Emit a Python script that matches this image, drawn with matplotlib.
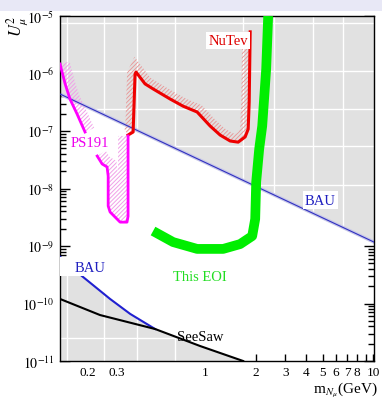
import numpy as np
import matplotlib
matplotlib.use('Agg')
import matplotlib.pyplot as plt
from matplotlib.patches import Polygon, Rectangle
from matplotlib.ticker import FixedLocator, FixedFormatter, LogLocator, NullFormatter

plt.rcParams['font.family'] = ['Liberation Serif', 'DejaVu Serif']
plt.rcParams['mathtext.fontset'] = 'stix'
plt.rcParams['hatch.linewidth'] = 0.7

# --- data (mass in GeV, U^2) ---
nutev_m = [0.348, 0.373, 0.383, 0.388, 0.439, 0.490, 0.619, 0.740, 0.896,
           1.071, 1.228, 1.409, 1.572, 1.730, 1.803, 1.828, 1.853]
nutev_u = [8.5e-8, 9.6e-8, 9.8e-7, 1.06e-6, 6.6e-7, 5.4e-7, 3.6e-7, 2.7e-7, 2.14e-7,
           1.22e-7, 8.5e-8, 6.7e-8, 6.4e-8, 7.9e-8, 1.08e-7, 3.2e-7, 5.3e-6]

ps191a_m = [0.137, 0.147, 0.157, 0.173, 0.193]
ps191a_u = [1.46e-6, 6.6e-7, 3.6e-7, 1.98e-7, 9.6e-8]
ps191b_m = [0.228, 0.244, 0.261, 0.265, 0.265, 0.272, 0.312, 0.343, 0.348, 0.348]
ps191b_u = [3.67e-8, 2.67e-8, 2.37e-8, 1.65e-8, 4.96e-9, 3.9e-9, 2.6e-9, 2.6e-9, 3.3e-9, 8.2e-8]

eoi_m = [0.490, 0.645, 0.896, 1.28, 1.615, 1.905, 1.985, 2.012, 2.097, 2.185, 2.307, 2.371]
eoi_u = [1.82e-9, 1.17e-9, 8.9e-10, 8.9e-10, 1.08e-9, 1.49e-9, 2.95e-9, 1.3e-8,
         4.9e-8, 1.22e-7, 1.2e-6, 1e-5]

bau_up_m = [0.137, 10.1]
bau_up_u = [4.4e-7, 1.17e-9]
bau_lo_m = [0.137, 0.185, 0.272, 0.358, 0.504]
bau_lo_u = [6.5e-10, 3.0e-10, 1.2e-10, 6.6e-11, 3.6e-11]
seesaw_m = [0.137, 0.237, 0.504, 0.934, 1.683]
seesaw_u = [1.2e-10, 6.3e-11, 3.6e-11, 1.82e-11, 1.0e-11]

# grid of the grey background picture
bg_grid_m = [0.151, 0.25, 0.394, 0.663, 1.68, 2.57, 4.39, 6.63]
bg_grid_u = [7.6e-6, 1.1e-6, 2.4e-7, 5.5e-8, 1.15e-8, 2.5e-11]

xtick_vals = [0.2, 0.3, 1, 2, 3, 4, 5, 6, 7, 8, 10]
xtick_labels = ['0.2', '0.3', '1', '2', '3', '4', '5', '6', '7', '8', '10']
xminor_vals = [0.4, 0.5, 0.6, 0.7, 0.8, 0.9, 9]
ytick_vals = [1e-11, 1e-10, 1e-9, 1e-8, 1e-7, 1e-6, 1e-5]
ytick_labels = ['$10^{-11}$', '$10^{-10}$', '$10^{-9}$', '$10^{-8}$',
                '$10^{-7}$', '$10^{-6}$', '$10^{-5}$']


def hatched_band(ax, xs, ys, width, color):
    # band of hatching on the left side of the curve (display coords)
    pts = ax.transData.transform(np.column_stack([xs, ys]))
    seg = np.diff(pts, axis=0)
    seg = seg / np.linalg.norm(seg, axis=1)[:, None]
    sn = np.column_stack([-seg[:, 1], seg[:, 0]])
    vn = np.zeros_like(pts)
    vn[0] = sn[0]
    vn[-1] = sn[-1]
    for i in range(1, len(pts) - 1):
        v = sn[i - 1] + sn[i]
        v = v / max(np.linalg.norm(v), 1e-6)
        scale = min(1.0 / max(np.dot(v, sn[i]), 0.3), 2.5)
        vn[i] = v * scale
    off = pts + vn * width
    poly = ax.transData.inverted().transform(np.vstack([pts, off[::-1]]))
    ax.add_patch(Polygon(poly, closed=True, facecolor='none', edgecolor=color,
                         hatch='////////', lw=0, zorder=2))


fig = plt.figure(figsize=(3.82, 4.02), dpi=100)
fig.patches.append(Rectangle((0, 1 - 12 / 402), 1, 12 / 402, transform=fig.transFigure,
                             facecolor='#e8e8f6', edgecolor='none', zorder=0))
ax = fig.add_axes([60 / 382, 40 / 402, 314 / 382, 345 / 402])
ax.set_xscale('log')
ax.set_yscale('log')
ax.set_xlim(0.137, 10.1)
ax.set_ylim(1e-11, 1e-5)
ax.set_axisbelow(True)

# grey excluded regions
grey = '#e1e1e1'
up = ax.fill_between(bau_up_m, bau_up_u, 1e-5, color=grey, lw=0, zorder=1)
low_m = bau_lo_m + [m for m in seesaw_m if m > 0.504]
low_u = bau_lo_u + [u for m, u in zip(seesaw_m, seesaw_u) if m > 0.504]
lo = ax.fill_between(low_m, 1e-11, low_u, color=grey, lw=0, zorder=1)
for coll in (up, lo):
    path = coll.get_paths()[0]
    for gm in bg_grid_m:
        ln = ax.axvline(gm, color='white', lw=1.0, zorder=1.2)
        ln.set_clip_path(path, ax.transData)
    for gu in bg_grid_u:
        ln = ax.axhline(gu, color='white', lw=1.0, zorder=1.2)
        ln.set_clip_path(path, ax.transData)

# hatched bands
hatched_band(ax, nutev_m, nutev_u, 8, '#e89a9a')
hatched_band(ax, ps191a_m, ps191a_u, 10, '#f0a0e8')
hatched_band(ax, ps191b_m, ps191b_u, 10, '#f0a0e8')

# curves
ax.plot(bau_up_m, bau_up_u, color='#c8c8e8', lw=2.5, zorder=1.5)
ax.plot(bau_up_m, bau_up_u, color='#3030c0', lw=0.8, zorder=3)
ax.plot(bau_lo_m, bau_lo_u, color='#2020d0', lw=1.5, zorder=3)
ax.plot(seesaw_m, seesaw_u, color='black', lw=1.5, zorder=3)
ax.plot(nutev_m, nutev_u, color='#ee0000', lw=2.2, zorder=3)
ax.plot(ps191a_m, ps191a_u, color='#ff00ff', lw=2.0, zorder=3)
ax.plot(ps191b_m, ps191b_u, color='#ff00ff', lw=2.0, zorder=3)
ax.plot(eoi_m, eoi_u, color='#00ee00', lw=7, solid_capstyle='butt', zorder=4)

# labels
ax.add_patch(Rectangle((0, 85 / 345), 43 / 314, 19 / 345, transform=ax.transAxes,
                       facecolor='white', edgecolor='none', zorder=3.5))
box = dict(facecolor='white', edgecolor='none', pad=1.5)
ax.text(1.37, 3.7e-6, 'NuTev', color='#dd0000', fontsize=10.5, ha='center', va='center',
        bbox=box, zorder=5)
ax.text(0.207, 6.2e-8, 'PS191', color='#ee00ee', fontsize=10.5, ha='center', va='center', zorder=5)
ax.text(4.84, 6.3e-9, 'BAU', color='#2020c0', fontsize=10.5, ha='center', va='center',
        bbox=box, zorder=5)
ax.text(0.207, 4.3e-10, 'BAU', color='#2020c0', fontsize=10.5, ha='center', va='center', zorder=5)
ax.text(0.934, 3.0e-10, 'This EOI', color='#22dd22', fontsize=10.5, ha='center', va='center', zorder=5)
ax.text(0.934, 2.7e-11, 'SeeSaw', color='black', fontsize=10.5, ha='center', va='center', zorder=5)

# ticks
ax.xaxis.set_major_locator(FixedLocator(xtick_vals))
ax.xaxis.set_major_formatter(FixedFormatter(xtick_labels))
ax.xaxis.set_minor_locator(FixedLocator(xminor_vals))
ax.xaxis.set_minor_formatter(NullFormatter())
ax.yaxis.set_major_locator(FixedLocator(ytick_vals))
ax.yaxis.set_major_formatter(FixedFormatter(ytick_labels))
ax.yaxis.set_minor_locator(LogLocator(base=10, subs=np.arange(2, 10), numticks=10))
ax.yaxis.set_minor_formatter(NullFormatter())
ax.tick_params(axis='x', which='both', direction='in', length=5, width=1, labelsize=9.5, pad=3.5)
ax.tick_params(axis='y', which='major', direction='in', length=7, width=1, labelsize=10,
               right=True, pad=4)
ax.tick_params(axis='y', which='minor', direction='in', length=4, width=1, right=True)
for sp in ax.spines.values():
    sp.set_linewidth(1.0)

fig.text(17 / 382, 1 - 26 / 402, r'$U^2_\mu$', rotation=90, fontsize=12, ha='center', va='center')
fig.text(378 / 382, 1 - 393 / 402, r'm$_{N_\mu}$(GeV)', fontsize=11, ha='right', va='baseline')

fig.savefig('out.png', dpi=100)
